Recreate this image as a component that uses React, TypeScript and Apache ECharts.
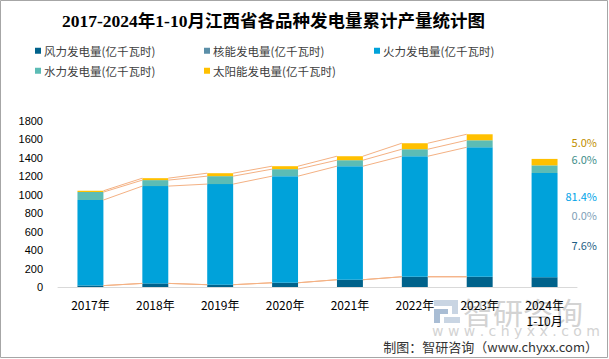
import React, { useEffect, useRef } from "react";
import * as echarts from "echarts";

const years = ["2017年", "2018年", "2019年", "2020年", "2021年", "2022年", "2023年", "2024年\n1-10月"];
const seriesNames = [
  "风力发电量(亿千瓦时)",
  "核能发电量(亿千瓦时)",
  "火力发电量(亿千瓦时)",
  "水力发电量(亿千瓦时)",
  "太阳能发电量(亿千瓦时)",
];
const wind = [15, 39, 25, 46, 79, 111, 111, 106];
const nuclear = [0, 0, 0, 0, 0, 0, 0, 0];
const thermal = [928, 1055, 1091, 1156, 1231, 1307, 1404, 1130];
const hydro = [86, 65, 86, 76, 65, 76, 76, 83];
const solar = [14, 21, 32, 32, 43, 65, 65, 70];
const colors = ["#00628B", "#5B8FA8", "#00A2DA", "#5CBCB5", "#FFC000"];
const shareLabels = ["5.0%", "6.0%", "81.4%", "0.0%", "7.6%"];
const shareColors = ["#BF8F00", "#3E8E8A", "#00A3E8", "#7F9FB8", "#1F5F85"];
const yMax = 1800;
const yInterval = 200;

const FONT = "'Noto Sans CJK SC', 'Noto Sans', sans-serif";

export default function App() {
  const ref = useRef<HTMLDivElement>(null);
  useEffect(() => {
    if (!ref.current) return;
    const chart = echarts.init(ref.current, undefined, { renderer: "svg" });
    const all = [wind, nuclear, thermal, hydro, solar];
    const cum: number[][] = [];
    let run = years.map(() => 0);
    all.forEach((arr) => {
      run = run.map((v, i) => v + arr[i]);
      cum.push(run.slice());
    });
    const lineData: number[][] = [];
    for (let i = 0; i < years.length - 2; i++) {
      cum.forEach((c) => lineData.push([i, c[i], c[i + 1]]));
    }
    const legendPos = [
      [35, 45],
      [204, 45],
      [374, 45],
      [35, 65],
      [204, 65],
    ];
    const shareY = [143, 160, 197, 216, 246];
    const option: any = {
      animation: false,
      backgroundColor: "#fff",
      title: {
        text: "2017-2024年1-10月江西省各品种发电量累计产量统计图",
        left: 62,
        top: 12,
        padding: 0,
        textStyle: {
          fontSize: 17.5,
          fontWeight: "bold",
          color: "#000",
          fontFamily: "'Liberation Serif', 'Noto Sans CJK SC', serif",
        },
      },
      legend: seriesNames.map((n, k) => ({
        data: [n],
        left: legendPos[k][0],
        top: legendPos[k][1],
        padding: 0,
        icon: "rect",
        itemWidth: 6,
        itemHeight: 6,
        itemGap: 4,
        selectedMode: false,
        textStyle: { fontSize: 11.5, color: "#404040", fontFamily: FONT, padding: [0, 0, 0, -2] },
      })),
      grid: { left: 58, right: 32, top: 121, bottom: 72 },
      xAxis: {
        type: "category",
        data: years,
        axisLine: { lineStyle: { color: "#d9d9d9" } },
        axisTick: { show: false },
        axisLabel: { fontSize: 12, color: "#000", margin: 9, lineHeight: 16, fontFamily: FONT },
      },
      yAxis: {
        type: "value",
        min: 0,
        max: yMax,
        interval: yInterval,
        splitLine: { show: false },
        axisLine: { show: false },
        axisTick: { show: false },
        axisLabel: {
          fontSize: 11,
          color: "#000",
          margin: 15,
          formatter: (v: number) => String(v),
          fontFamily: "'Liberation Sans', sans-serif",
        },
      },
      series: [
        ...all.map((arr, k) => ({
          name: seriesNames[k],
          type: "bar",
          stack: "total",
          barWidth: "40%",
          data: arr,
          itemStyle: { color: colors[k] },
        })),
        {
          type: "custom",
          data: lineData,
          silent: true,
          z: 5,
          renderItem: (params: any, api: any) => {
            const i = api.value(0);
            const p1 = api.coord([i, api.value(1)]);
            const p2 = api.coord([i + 1, api.value(2)]);
            const bw = api.size([1, 0])[0] * 0.4;
            return {
              type: "line",
              shape: { x1: p1[0] + bw / 2, y1: p1[1], x2: p2[0] - bw / 2, y2: p2[1] },
              style: { stroke: "#F4B183", lineWidth: 1 },
            };
          },
        },
      ],
      graphic: [
        ...shareLabels.map((t, k) => ({
          type: "text",
          right: 12,
          top: shareY[k] - 7,
          style: { text: t, fill: shareColors[k], fontSize: 11, fontFamily: FONT },
        })),
        // watermark logo
        { type: "rect", shape: { x: 434, y: 300, width: 24, height: 6 }, style: { fill: "#c9d5e3" }, z: -1 },
        { type: "rect", shape: { x: 452, y: 300, width: 6, height: 14 }, style: { fill: "#c9d5e3" }, z: -1 },
        { type: "rect", shape: { x: 434, y: 309, width: 14, height: 5 }, style: { fill: "#a9bdd4" }, z: -1 },
        { type: "rect", shape: { x: 434, y: 309, width: 6, height: 14 }, style: { fill: "#a9bdd4" }, z: -1 },
        { type: "rect", shape: { x: 444, y: 317, width: 16, height: 6 }, style: { fill: "#c9d5e3" }, z: -1 },
        {
          type: "text",
          left: 463,
          top: 296,
          z: -1,
          style: { text: "智研咨询", fill: "#d3d3d3", fontSize: 30, fontFamily: FONT },
        },
        {
          type: "text",
          left: 432,
          top: 324,
          z: -1,
          style: { text: "w w w . c h y x x . c o m", fill: "#d3d3d3", fontSize: 14, fontFamily: "'DejaVu Sans', sans-serif" },
        },
        {
          type: "text",
          right: 11,
          top: 340,
          style: { text: "制图：智研咨询（www.chyxx.com）", fill: "#333", fontSize: 13, fontFamily: FONT },
        },
        {
          type: "rect",
          shape: { x: 0.5, y: 0.5, width: 607, height: 357 },
          style: { fill: "none", stroke: "#a6a6a6", lineWidth: 1 },
          z: 100,
        },
      ],
    };
    chart.setOption(option);
    return () => chart.dispose();
  }, []);
  return <div ref={ref} style={{ position: "fixed", left: 0, top: 0, width: 609, height: 359 }} />;
}
